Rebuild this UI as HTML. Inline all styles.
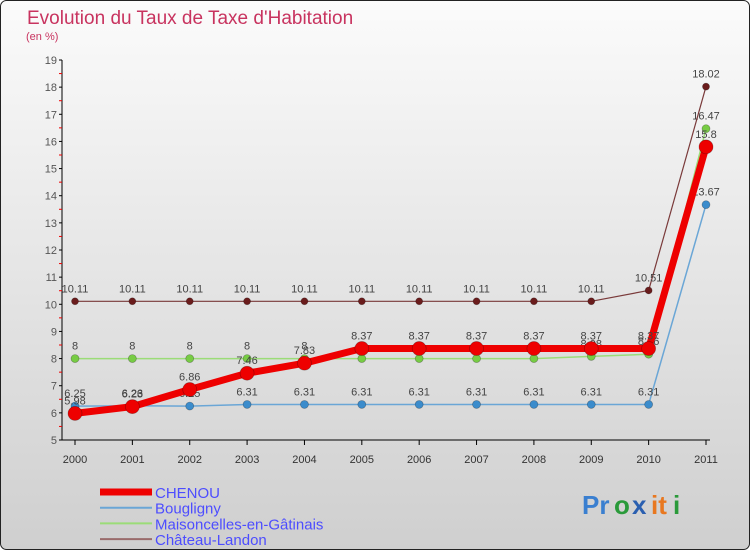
<!DOCTYPE html>
<html><head><meta charset="utf-8"><style>
body{margin:0;width:750px;height:550px;overflow:hidden;font-family:"Liberation Sans",sans-serif}
</style></head><body>
<svg id="chart" width="750" height="550" xmlns="http://www.w3.org/2000/svg" font-family="Liberation Sans, sans-serif">
<defs><linearGradient id="bg" x1="0" y1="0" x2="0" y2="1"><stop offset="0" stop-color="#fbfbfb"/><stop offset="1" stop-color="#cfcfcf"/></linearGradient></defs>
<rect x="0.5" y="0.5" width="749" height="549" rx="6" fill="url(#bg)" stroke="#222"/>
<text x="27" y="24" font-size="19" fill="#c8335f">Evolution du Taux de Taxe d'Habitation</text>
<text x="26" y="40" font-size="11" fill="#c8335f">(en %)</text>
<g id="axes"></g><g id="series"></g><g id="legend"></g>
<g font-size="26" font-weight="bold">
<text x="582" y="514" fill="#3a7fd0">Pr</text><text x="614" y="514" fill="#2a9a3a">o</text><text x="632" y="514" fill="#2a5fb0">x</text><text x="651" y="514" fill="#e87820">it</text><text x="673" y="514" fill="#2a9a3a">i</text>
</g>
</svg>
<script>
const years=[2000,2001,2002,2003,2004,2005,2006,2007,2008,2009,2010,2011];
const yTicks=[5,6,7,8,9,10,11,12,13,14,15,16,17,18,19];
const chenou=[5.98,6.23,6.86,7.46,7.83,8.37,8.37,8.37,8.37,8.37,8.37,15.8];
const bougligny=[6.25,6.26,6.25,6.31,6.31,6.31,6.31,6.31,6.31,6.31,6.31,13.67];
const maisoncelles=[8,8,8,8,8,8,8,8,8,8.08,8.16,16.47];
const chateau=[10.11,10.11,10.11,10.11,10.11,10.11,10.11,10.11,10.11,10.11,10.51,18.02];
const NS="http://www.w3.org/2000/svg";
const X=i=>75+i*(706-75)/11, Y=v=>440-(v-5)*(380/14);
function mk(t,a,p){const e=document.createElementNS(NS,t);for(const k in a)e.setAttribute(k,a[k]);p.appendChild(e);return e;}
const ax=document.getElementById('axes');
let e=mk('line',{x1:62,y1:440,x2:710,y2:440,stroke:'#000'},ax);


e=mk('line',{x1:62,y1:60,x2:62,y2:440,stroke:'#000'},ax);


yTicks.forEach(v=>{
 mk('line',{x1:59,y1:Y(v),x2:62,y2:Y(v),stroke:'#000'},ax);
 if(v<19)mk('line',{x1:59,y1:Y(v+0.5),x2:62,y2:Y(v+0.5),stroke:'#e00'},ax);
 const t=mk('text',{x:57,y:Y(v)+4,'font-size':11,'text-anchor':'end',fill:'#555'},ax);t.textContent=v;
 
 
});
years.forEach((y,i)=>{
 mk('line',{x1:X(i),y1:440,x2:X(i),y2:445,stroke:'#000'},ax);
 const t=mk('text',{x:X(i),y:463,'font-size':11,'text-anchor':'middle',fill:'#333'},ax);t.textContent=y;
 
 
});
const sg=document.getElementById('series');
function series(name,d,color,w,r,dot){
 const g=mk('g',{},sg);
 
 
 mk('polyline',{points:d.map((v,i)=>X(i)+','+Y(v)).join(' '),fill:'none',stroke:color,'stroke-width':w,'stroke-linejoin':'round'},g);
 d.forEach((v,i)=>{
  const c=mk('circle',{cx:X(i),cy:Y(v),r:r,fill:dot,stroke:'rgba(0,0,0,0.3)','stroke-width':0.7},g);
  
  
  const t=mk('text',{x:X(i),y:Y(v)-9,'font-size':11,'text-anchor':'middle',fill:'#444'},g);
  t.textContent=v;
 });
}
series('bougligny',bougligny,'#6aa6d6',1.5,4,'#3b8ccc');
series('maisoncelles',maisoncelles,'#9bdc77',1.5,4,'#77cc44');
series('chateau-landon',chateau,'#7a3a3a',1.2,3.5,'#6a1c1c');
series('chenou',chenou,'#ee0000',7,7,'#ee0000');
const lg=document.getElementById('legend');
[['CHENOU','#ee0000',7],['Bougligny','#6aa6d6',2],['Maisoncelles-en-Gâtinais','#9bdc77',2],['Château-Landon','#9a6b6b',2]].forEach((s,i)=>{
 const y=492+i*15.7;
 const g=mk('g',{},lg);
 
 
 mk('line',{x1:100,y1:y,x2:152,y2:y,stroke:s[1],'stroke-width':s[2]},g);
 const t=mk('text',{x:155,y:y+6,'font-size':15,fill:'#4d4dff'},g);t.textContent=s[0];
});
</script>
</body></html>
